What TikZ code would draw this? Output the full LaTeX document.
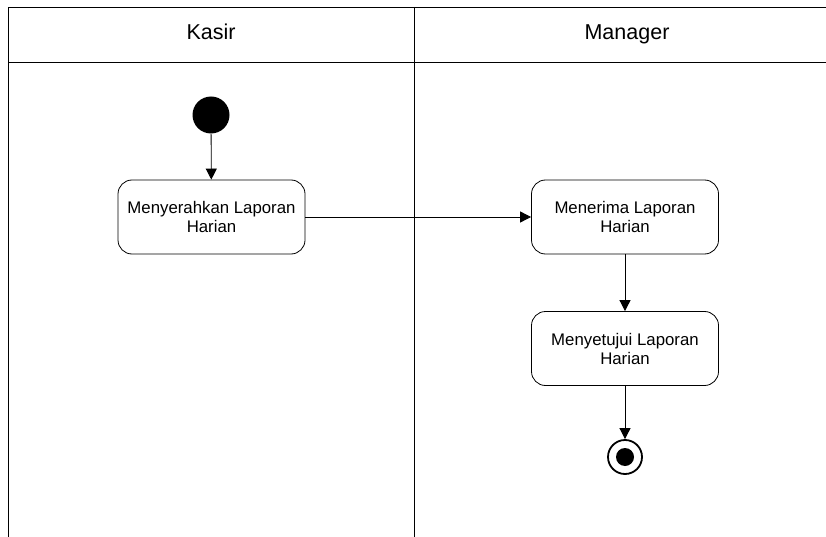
\documentclass[tikz,border=0pt]{standalone}
\usepackage{fontspec}
\setmainfont{Liberation Sans}
\usetikzlibrary{arrows.meta, positioning, calc}

\tikzset{
  aksi/.style={draw, rounded corners=14pt, line width=0.8pt, minimum width=187pt,
    minimum height=74pt, align=center, font=\fontsize{16.8}{19}\selectfont},
  mulai/.style={circle, fill=black, minimum size=37pt, inner sep=0pt},
  akhir/.style={circle, draw, line width=1.8pt, minimum size=34pt, inner sep=0pt,
    path picture={\fill (path picture bounding box.center) circle (9pt);}},
  judul/.style={anchor=base, font=\fontsize{21.5}{24}\selectfont},
  alur/.style={-{Triangle[length=11pt,width=11pt]}, line width=0.8pt}
}

\begin{document}
\begin{tikzpicture}[x=1pt, y=-1pt]
\useasboundingbox (0,0) rectangle (826,537);

%------------------------------------------------
% SWIMLANE: Kasir dan Manager
%------------------------------------------------
\draw[line width=0.9pt] (826,7) -- (8,7) -- (8,537);
\draw[line width=0.9pt] (8,62) -- (826,62);
\draw[line width=0.9pt] (414,7) -- (414,537);

\node[judul] (kasir) at (211,40) {Kasir};
\node[judul] (manager) at (627,40) {Manager};

%------------------------------------------------
% AKTIVITAS
%------------------------------------------------
% Titik awal
\node[mulai] (awal) at (211,115) {};

% Aksi Kasir dan Manager
\node[aksi] (serah) at (211.5,217) {Menyerahkan Laporan\\Harian};
\node[aksi] (terima) at (625,217) {Menerima Laporan\\Harian};
\node[aksi] (setuju) at (625,348.5) {Menyetujui Laporan\\Harian};

% Titik akhir
\node[akhir] (selesai) at (625,457) {};

% Alur
\draw[alur] (awal) -- (serah);
\draw[alur] (serah) -- (terima);
\draw[alur] (terima) -- (setuju);
\draw[alur] (setuju) -- (selesai);
\end{tikzpicture}
\end{document}
